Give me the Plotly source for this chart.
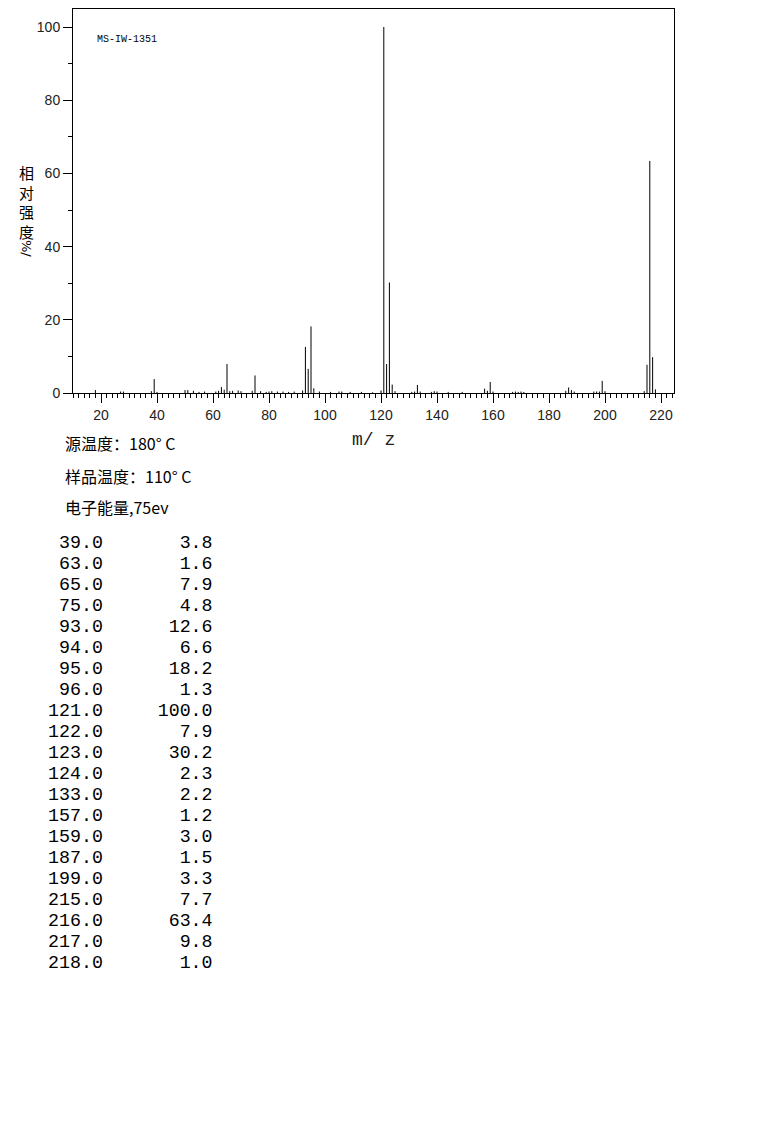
import plotly.graph_objects as go

# ---- data ----
table_mz = [39, 63, 65, 75, 93, 94, 95, 96, 121, 122, 123, 124, 133, 157, 159,
            187, 199, 215, 216, 217, 218]
table_int = [3.8, 1.6, 7.9, 4.8, 12.6, 6.6, 18.2, 1.3, 100.0, 7.9, 30.2, 2.3, 2.2,
             1.2, 3.0, 1.5, 3.3, 7.7, 63.4, 9.8, 1.0]

minor_mz = [18, 27, 28, 38, 40, 50, 51, 53, 55, 57, 61, 62, 64, 66, 67, 69, 70, 74,
            77, 79, 80, 81, 83, 85, 87, 89, 92, 98, 102, 105, 106, 109, 113, 117,
            120, 125, 131, 132, 134, 138, 139, 140, 144, 149, 158, 160, 167, 168,
            169, 170, 171, 186, 188, 189, 196, 197, 198, 200, 214]
minor_int = [0.8, 0.4, 0.4, 0.5, 0.3, 0.8, 0.8, 0.6, 0.3, 0.4, 0.4, 0.6, 0.9, 0.5,
             0.6, 0.7, 0.5, 0.6, 0.5, 0.3, 0.4, 0.5, 0.4, 0.4, 0.3, 0.4, 0.7, 0.4,
             0.3, 0.4, 0.4, 0.3, 0.3, 0.2, 0.7, 0.5, 0.3, 0.4, 0.4, 0.3, 0.5, 0.4,
             0.3, 0.3, 0.6, 0.4, 0.3, 0.4, 0.3, 0.4, 0.3, 0.6, 0.8, 0.4, 0.4, 0.4,
             0.4, 0.5, 0.5]

sample_id = "MS-IW-1351"
info_lines = ["源温度：180° C", "样品温度：110° C", "电子能量,75ev"]
x_ticks = [20, 40, 60, 80, 100, 120, 140, 160, 180, 200, 220]
y_ticks = [0, 20, 40, 60, 80, 100]

# ---- geometry helpers (reference pixel -> paper); page has an 8px body margin ----
OFF = 8
W, H = 765 - OFF, 1134 - OFF
L, R, T, B = 73 - OFF, 674 - OFF, 1, 393 - OFF
Y_TOP = 100 + (27 - (T + OFF)) / 3.66


def px(x):
    return (x - OFF - L) / (R - L)


def py(y):
    return (B - (y - OFF)) / (B - T)


all_mz = table_mz + minor_mz
all_int = table_int + minor_int
xs, ys = [], []
for m, v in zip(all_mz, all_int):
    xs += [m, m, None]
    ys += [0, v, None]

fig = go.Figure()
fig.add_trace(go.Scatter(x=xs, y=ys, mode="lines",
                         line=dict(color="black", width=1),
                         hoverinfo="skip", showlegend=False, cliponaxis=False))

tickfont = dict(family="Liberation Sans, Arial, sans-serif", size=14, color="#222")
fig.update_layout(
    width=W, height=H,
    margin=dict(l=L, r=W - R, t=T, b=H - B, pad=0),
    paper_bgcolor="white", plot_bgcolor="white",
    showlegend=False,
    xaxis=dict(range=[10, 224.64], tickmode="array", tickvals=x_ticks,
               ticks="outside", ticklen=9, tickcolor="black", tickwidth=1,
               showline=True, linecolor="black", linewidth=1, mirror=True,
               showgrid=False, zeroline=False, tickfont=tickfont,
               minor=dict(dtick=2, tick0=0, ticks="outside", ticklen=4,
                          tickcolor="black", tickwidth=1, showgrid=False)),
    yaxis=dict(range=[0, Y_TOP], tickmode="array", tickvals=y_ticks,
               ticks="outside", ticklen=9, tickcolor="black", tickwidth=1,
               showline=True, linecolor="black", linewidth=1, mirror=True,
               showgrid=False, zeroline=False, tickfont=tickfont,
               minor=dict(dtick=10, tick0=0, ticks="outside", ticklen=4,
                          tickcolor="black", tickwidth=1, showgrid=False)),
)

ann = []
cjk = "Noto Sans CJK SC, sans-serif"
# sample id
ann.append(dict(text=sample_id, x=px(95), y=py(40), xref="paper", yref="paper",
                xanchor="left", yanchor="middle", showarrow=False,
                font=dict(family="Liberation Mono, monospace", size=10, color="black")))
# y label (stacked)
ann.append(dict(text="相<br>对<br>强<br>度", x=px(26), y=py(202), xref="paper",
                yref="paper", xanchor="center", yanchor="middle", showarrow=False,
                font=dict(family=cjk, size=15, color="black")))
ann.append(dict(text="%/", x=px(26), y=py(248), xref="paper", yref="paper",
                xanchor="center", yanchor="middle", showarrow=False, textangle=90,
                font=dict(family="DejaVu Sans, sans-serif", size=13, color="black")))
# x label
ann.append(dict(text="m/ z", x=px(373), y=py(440), xref="paper", yref="paper",
                xanchor="center", yanchor="middle", showarrow=False,
                font=dict(family="Liberation Mono, monospace", size=18, color="#222")))
# info lines
for line, yy in zip(info_lines, [443, 476, 507]):
    ann.append(dict(text=line, x=px(63), y=py(yy), xref="paper", yref="paper",
                    xanchor="left", yanchor="middle", showarrow=False,
                    font=dict(family=cjk, size=16, color="black")))
# peak table
for i, (m, v) in enumerate(zip(table_mz, table_int)):
    row = f"{m:>5.1f}{v:>10.1f}"
    ann.append(dict(text=row.replace(" ", "&nbsp;"), x=px(215), y=py(543 + 21 * i),
                    xref="paper", yref="paper", xanchor="right", yanchor="middle",
                    showarrow=False,
                    font=dict(family="Liberation Mono, monospace", size=18.3,
                              color="black")))
fig.update_layout(annotations=ann)

fig.write_html("out.html")
